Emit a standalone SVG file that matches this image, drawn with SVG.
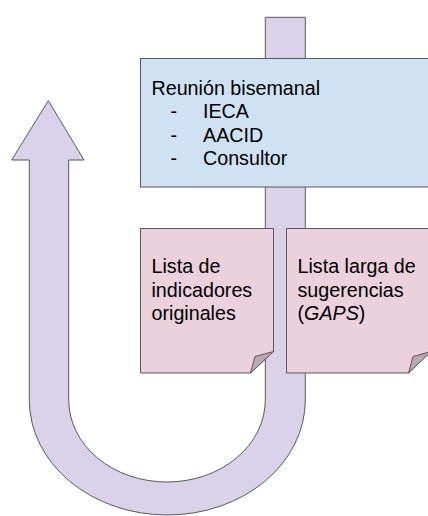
<svg xmlns="http://www.w3.org/2000/svg" width="428" height="516" viewBox="0 0 428 516">
<style>
.shape{stroke:#595959;stroke-width:1;stroke-linejoin:miter}
.arrow{fill:#d9d2e9}
.blue{fill:#cfe2f3}
.pink{fill:#ead1dc}
.fold{fill:#bba8b0}
text{font-family:"Liberation Sans",Arial,sans-serif;font-size:19.7px;fill:#000}
</style>
<rect width="428" height="516" fill="#fff"/>
<g id="connectors">
<path id="uturn" class="shape arrow" d="M48.3,100.7 L84,160 L68.7,160 L68.7,400 A98.3,82 0 0 0 265.3,400 L265.3,17.3 L305.3,17.3 L305.3,400 A138,115 0 0 1 29.3,400 L29.3,160 L11.7,160 Z"/>
</g>
<g id="reunion">
<rect class="shape blue" x="140.5" y="58.5" width="300" height="128.5"/>
<text x="151.5" y="95">Reunión bisemanal</text>
<text x="170.5" y="118.3">-</text>
<text x="203" y="118.3">IECA</text>
<text x="170.5" y="141.6">-</text>
<text x="203" y="141.6">AACID</text>
<text x="170.5" y="165">-</text>
<text x="203" y="165">Consultor</text>
</g>
<g id="lista-indicadores">
<path class="shape pink" d="M140.5,228.5 H273.5 V351.5 L250.5,373 H140.5 Z"/>
<path class="shape fold" d="M273.5,351.5 L255,356.5 L250.5,373 Z"/>
<text x="151.5" y="273.3">Lista de</text>
<text x="151.5" y="296.5">indicadores</text>
<text x="151.5" y="319.5">originales</text>
</g>
<g id="lista-gaps">
<path class="shape pink" d="M286.5,228.5 H431 V351.5 L408.5,373 H286.5 Z"/>
<path class="shape fold" d="M431,351.5 L413,356.5 L408.5,373 Z"/>
<text x="297.5" y="273.3">Lista larga de</text>
<text x="297.5" y="296.5">sugerencias</text>
<text x="297.5" y="319.5">(<tspan font-style="italic">GAPS</tspan>)</text>
</g>
</svg>
